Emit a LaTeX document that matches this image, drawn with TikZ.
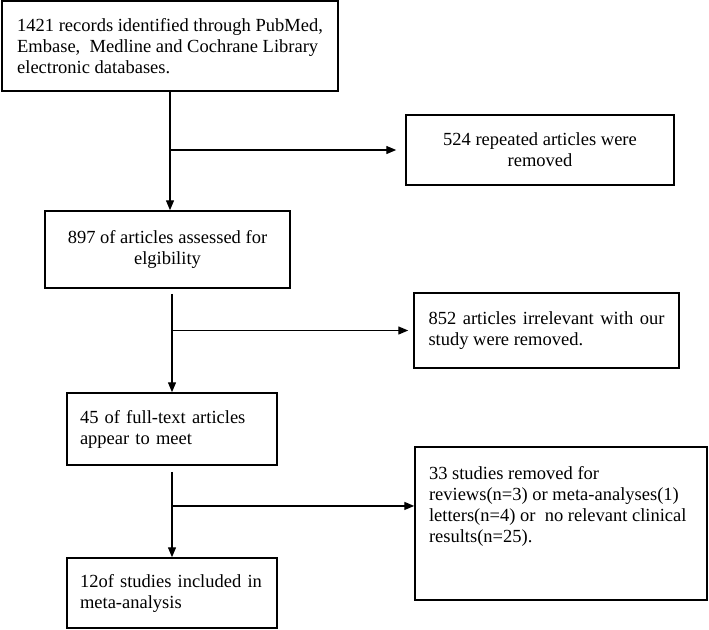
\documentclass[tikz,border=0pt]{standalone}
\usepackage{fontspec}
\setmainfont{Liberation Serif}
\usetikzlibrary{arrows.meta,calc}

\begin{document}
\begin{tikzpicture}[x=1pt,y=-1pt]
	\tikzstyle{box} = [draw = black, line width = 1.5pt, inner sep = 0pt, font = \fontsize{18.5}{21}\selectfont]
	\tikzstyle{line} = [line width = 1.4pt, -{Triangle[length=10pt,width=8pt]}]
	\useasboundingbox (0,0) rectangle (709,629);
	\node(rec)[box, minimum width = 336pt, minimum height = 90pt, align = left] at (170,46) {1421 records identified through PubMed,\\Embase,~ Medline and Cochrane Library\\electronic databases.};
	\node(rep)[box, minimum width = 268pt, minimum height = 70pt, align = center] at (540,150) {524 repeated articles were\\removed};
	\node(elig)[box, minimum width = 245pt, minimum height = 77pt, align = center] at (167.5,249.5) {897 of articles assessed for\\elgibility};
	\node(irr)[box, minimum width = 265pt, minimum height = 75pt, text width = 236pt, align = justify] at (546.5,330.5) {852 articles irrelevant with our study were removed.};
	\node(full)[box, minimum width = 210pt, minimum height = 72pt, text width = 184pt, align = left] at (172,429) {45 of full-text articles\\appear to meet};
	\node(excl)[box, minimum width = 292pt, minimum height = 153pt] at (561,523.5) {\parbox[c][115pt][t]{264pt}{33 studies removed for\\reviews(n=3) or meta-analyses(1)\\letters(n=4) or~ no relevant clinical\\results(n=25).}};
	\node(incl)[box, minimum width = 210pt, minimum height = 70pt, text width = 184pt, align = left] at (172,593) {12of studies included in\\meta-analysis};
	% main trunk
	\draw[line](rec.south) -- (rec.south |- elig.north);
	\draw[line, shorten >= 9pt](rec.south |- rep.west) -- (rep.west);
	\coordinate (s2) at ([yshift=-5pt]elig.south -| full.north);
	\draw[line](s2) -- (s2 |- full.north);
	\draw[line, shorten >= 5pt](s2 |- irr.west) -- (irr.west);
	\coordinate (s3) at ([yshift=-6pt]full.south);
	\coordinate (b3) at ($(s3)!0.4!(s3 |- incl.north)$);
	\draw[line](s3) -- (s3 |- incl.north);
	\draw[line](b3) -- (b3 -| excl.west);
\end{tikzpicture}
\end{document}
